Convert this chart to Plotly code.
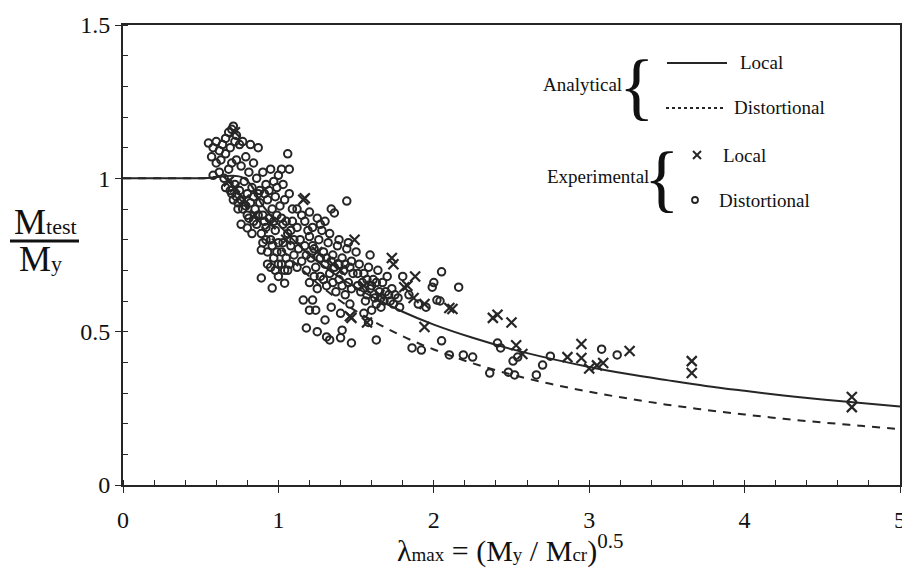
import plotly.graph_objects as go

# ---- Analytical curves ----
local_x = [0.0, 0.5, 0.78, 0.9, 1.0, 1.2, 1.4, 1.6, 1.8, 2.0, 2.25, 2.5, 2.75, 3.0, 3.25, 3.5, 3.75, 4.0, 4.25, 4.5, 4.75, 5.0]
local_y = [1.0, 1.0, 1.0, 0.91, 0.85, 0.75, 0.675, 0.615, 0.565, 0.523, 0.48, 0.443, 0.412, 0.385, 0.362, 0.342, 0.323, 0.307, 0.292, 0.279, 0.267, 0.256]

dist_x = [0.0, 0.5, 0.673, 0.8, 1.0, 1.2, 1.4, 1.6, 1.8, 2.0, 2.25, 2.5, 2.75, 3.0, 3.25, 3.5, 3.75, 4.0, 4.25, 4.5, 4.75, 5.0]
dist_y = [1.0, 1.0, 1.0, 0.905, 0.78, 0.68, 0.60, 0.537, 0.485, 0.442, 0.397, 0.36, 0.33, 0.304, 0.282, 0.262, 0.245, 0.23, 0.216, 0.204, 0.193, 0.182]

# ---- Experimental, distortional (circles) ----
exp_dist_x = [
    0.55, 0.58, 0.60, 0.62, 0.64, 0.66, 0.68, 0.70, 0.71, 0.73, 0.57, 0.60, 0.63, 0.66, 0.69, 0.72, 0.75, 0.77, 0.82, 0.87,
    0.58, 0.62, 0.65, 0.68, 0.70, 0.73, 0.76, 0.79, 0.81, 0.84,
    0.72, 0.75, 0.78, 0.80, 0.83, 0.86, 0.88, 0.90, 0.92, 0.95, 0.97, 1.00, 1.03, 1.06, 1.02, 1.07,
    0.74, 0.77, 0.80, 0.82, 0.85, 0.88, 0.90, 0.93, 0.96, 0.98, 1.01, 1.04, 1.07, 1.09,
    0.76, 0.80, 0.83, 0.86, 0.89, 0.92, 0.95, 0.98, 1.00, 1.03, 1.06, 1.09, 1.12, 0.90, 0.89, 0.93, 0.97, 1.00, 1.02, 1.05,
    1.08, 0.95, 1.04, 0.89, 0.96, 1.04, 1.00,
    1.12, 1.15, 1.17, 1.20, 1.22, 1.25, 1.28, 1.30, 1.34, 1.36, 1.44, 1.14, 1.17, 1.20, 1.23, 1.26, 1.29, 1.32, 1.35, 1.38,
    1.41, 1.44, 1.47, 1.50, 1.15, 1.18, 1.21, 1.24, 1.27, 1.30, 1.33, 1.36, 1.39, 1.42, 1.45, 1.48, 1.51, 1.20, 1.25, 1.31,
    1.37, 1.43, 1.16, 1.22, 1.20, 1.24, 1.30, 1.25, 1.31, 1.33, 1.41, 1.40, 1.47, 1.18, 1.34, 1.40, 1.46,
    1.52, 1.55, 1.58, 1.59, 1.61, 1.64, 1.67, 1.70, 1.73, 1.53, 1.56, 1.59, 1.62, 1.65, 1.68, 1.71, 1.74, 1.77, 1.55, 1.60,
    1.66, 1.63, 1.58,
    1.86, 1.92, 1.95, 2.02, 1.99, 2.00, 2.05, 2.16, 2.04, 2.05, 2.10, 2.19, 2.25, 2.36, 2.41, 2.43, 2.48, 2.52, 2.51, 2.54,
    2.66, 2.70, 2.75, 3.08, 3.18, 1.80, 1.84, 1.90,
    0.70, 0.73, 0.76, 0.79, 0.81, 0.84, 0.87, 0.91, 0.94, 0.97, 0.99, 1.02, 1.05, 1.08, 1.10, 0.84, 0.87, 0.91, 0.94, 0.99,
    0.92, 0.96, 0.99, 1.03, 1.07, 1.10, 0.93, 0.98, 1.02, 1.06,
    1.13, 1.18, 1.22, 1.27, 1.31, 1.34, 1.39, 1.43, 1.46, 1.12, 1.23, 1.29, 1.35, 1.41, 1.47, 1.19, 1.27, 1.33, 1.39, 1.45,
    1.54, 1.57, 1.60, 1.63, 1.66, 1.69, 1.72, 1.51, 1.57, 1.63, 1.75, 1.78,
    0.66, 0.69, 0.71, 0.74,
]
exp_dist_y = [
    1.115, 1.10, 1.12, 1.09, 1.11, 1.13, 1.15, 1.16, 1.17, 1.14, 1.07, 1.05, 1.06, 1.08, 1.10, 1.12, 1.11, 1.12, 1.11, 1.10,
    1.01, 1.02, 1.00, 1.03, 1.05, 1.06, 1.04, 1.07, 1.02, 1.05,
    0.98, 0.96, 0.99, 0.95, 0.97, 1.00, 0.96, 1.02, 0.98, 1.03, 0.99, 1.01, 0.98, 1.08, 1.03, 1.03,
    0.92, 0.90, 0.88, 0.92, 0.90, 0.92, 0.88, 0.93, 0.90, 0.94, 0.91, 0.93, 0.95, 0.90,
    0.85, 0.838, 0.82, 0.85, 0.82, 0.84, 0.80, 0.83, 0.79, 0.85, 0.82, 0.86, 0.84, 0.79, 0.766, 0.76, 0.74, 0.72, 0.76, 0.74,
    0.78, 0.71, 0.70, 0.675, 0.642, 0.658, 0.68,
    0.90, 0.88, 0.86, 0.89, 0.84, 0.87, 0.83, 0.86, 0.90, 0.887, 0.926, 0.80, 0.78, 0.81, 0.77, 0.80, 0.76, 0.79, 0.75, 0.78,
    0.74, 0.77, 0.73, 0.76, 0.73, 0.70, 0.74, 0.71, 0.68, 0.72, 0.69, 0.71, 0.67, 0.70, 0.66, 0.69, 0.65, 0.66, 0.64, 0.65,
    0.63, 0.62, 0.603, 0.603, 0.57, 0.57, 0.538, 0.50, 0.483, 0.473, 0.505, 0.48, 0.463, 0.512, 0.58, 0.56, 0.59,
    0.72, 0.69, 0.71, 0.75, 0.67, 0.70, 0.66, 0.68, 0.64, 0.63, 0.60, 0.64, 0.61, 0.63, 0.60, 0.62, 0.59, 0.61, 0.56, 0.57,
    0.58, 0.473, 0.53,
    0.447, 0.44, 0.58, 0.603, 0.645, 0.66, 0.695, 0.645, 0.60, 0.47, 0.424, 0.424, 0.417, 0.365, 0.463, 0.447, 0.368, 0.359, 0.404, 0.417,
    0.359, 0.391, 0.42, 0.443, 0.424, 0.68, 0.62, 0.59,
    0.95, 0.94, 0.93, 0.91, 0.87, 0.86, 0.88, 0.86, 0.87, 0.86, 0.88, 0.87, 0.86, 0.83, 0.80, 0.94, 0.95, 0.95, 0.96, 0.97,
    0.80, 0.78, 0.76, 0.79, 0.72, 0.75, 0.72, 0.70, 0.72, 0.70,
    0.77, 0.75, 0.78, 0.74, 0.74, 0.73, 0.72, 0.72, 0.71, 0.71, 0.68, 0.67, 0.66, 0.65, 0.64, 0.83, 0.85, 0.82, 0.80, 0.79,
    0.66, 0.67, 0.65, 0.66, 0.61, 0.63, 0.60, 0.69, 0.62, 0.59, 0.62, 0.58,
    0.97, 0.96, 0.93, 0.90,
]

# ---- Experimental, local (crosses) ----
exp_local_x = [0.68, 0.72, 0.72, 0.78, 0.85, 0.95, 1.05, 1.16, 1.17, 1.25, 1.35, 1.49, 1.40, 1.47, 1.46, 1.57, 1.55, 1.65,
               1.73, 1.74, 1.81, 1.83, 1.87, 1.88, 1.94, 1.94, 2.10, 2.12, 2.38, 2.41, 2.50, 2.53, 2.57, 2.86, 2.95, 2.95,
               3.00, 3.05, 3.09, 3.26, 3.66, 3.66, 4.69, 4.69]
exp_local_y = [0.99, 0.97, 1.15, 0.93, 0.88, 0.85, 0.80, 0.93, 0.935, 0.76, 0.72, 0.80, 0.70, 0.545, 0.55, 0.53, 0.65, 0.62,
               0.74, 0.72, 0.645, 0.65, 0.61, 0.68, 0.59, 0.515, 0.577, 0.574, 0.545, 0.555, 0.53, 0.456, 0.427, 0.417, 0.46, 0.414,
               0.38, 0.39, 0.398, 0.437, 0.404, 0.365, 0.287, 0.254]

x_ticks = [0, 1, 2, 3, 4, 5]
y_ticks = [0, 0.5, 1, 1.5]
y_tick_text = ["0", "0.5", "1", "1.5"]

INK = "#262626"
FONT = "Liberation Serif, Times New Roman, serif"

fig = go.Figure()
fig.add_trace(go.Scatter(x=dist_x, y=dist_y, mode="lines", line=dict(color=INK, width=2, dash="8px,7px"),
                         line_shape="spline", showlegend=False, hoverinfo="skip"))
fig.add_trace(go.Scatter(x=local_x, y=local_y, mode="lines", line=dict(color=INK, width=2),
                         line_shape="spline", showlegend=False, hoverinfo="skip"))
fig.add_trace(go.Scatter(x=exp_dist_x, y=exp_dist_y, mode="markers",
                         marker=dict(symbol="circle-open", size=7.5, color=INK, line=dict(width=2, color=INK)),
                         showlegend=False))
fig.add_trace(go.Scatter(x=exp_local_x, y=exp_local_y, mode="markers",
                         marker=dict(symbol="x-thin-open", size=10, color=INK, line=dict(width=2.2, color=INK)),
                         showlegend=False))

# plot area in pixels: x 123..900, y 25..485
def px(x):
    return (x - 123) / 777.0

def py(y):
    return (485 - y) / 460.0

ann = []
def text(x, y, s, size=18, xanchor="center"):
    ann.append(dict(x=px(x), y=py(y), xref="paper", yref="paper", text=s, showarrow=False,
                    font=dict(family=FONT, size=size, color="#111"), xanchor=xanchor, yanchor="middle"))

def small(s, size):
    return "<span style='font-size:%dpx'>%s</span>" % (size, s)

# legend block
text(624, 84, "Analytical", 19, "right")
text(637, 86, "{", 74)
text(738, 63, "Local", 19, "left")
text(732, 108, "Distortional", 19, "left")
text(651, 176, "Experimental", 19, "right")
text(662, 178, "{", 74)
text(721, 155, "Local", 19, "left")
text(717, 200, "Distortional", 19, "left")

# axis titles
text(45, 222, "M" + small("test", 22), 36)
text(40, 259, "M" + small("y", 22), 36)
text(510, 548, "λ" + small("max", 19) + " = (M" + small("y", 19) + " / M" + small("cr", 19) + ")<sup>0.5</sup>", 30)

shapes = [
    dict(type="line", xref="paper", yref="paper", x0=px(667), x1=px(727), y0=py(63), y1=py(63),
         line=dict(color=INK, width=2)),
    dict(type="line", xref="paper", yref="paper", x0=px(666), x1=px(724), y0=py(108), y1=py(108),
         line=dict(color=INK, width=2, dash="dot")),
    dict(type="line", xref="paper", yref="paper", x0=px(693), x1=px(701), y0=py(151), y1=py(159),
         line=dict(color=INK, width=2)),
    dict(type="line", xref="paper", yref="paper", x0=px(693), x1=px(701), y0=py(159), y1=py(151),
         line=dict(color=INK, width=2)),
    dict(type="circle", xref="paper", yref="paper", x0=px(692), x1=px(698), y0=py(197), y1=py(203),
         line=dict(color=INK, width=1.8)),
    dict(type="line", xref="paper", yref="paper", x0=px(10), x1=px(79), y0=py(241), y1=py(241),
         line=dict(color="#111", width=3)),
]

fig.update_layout(
    width=902, height=578,
    margin=dict(l=123, r=2, t=25, b=93, autoexpand=False),
    paper_bgcolor="white", plot_bgcolor="white",
    font=dict(family=FONT, size=24, color="#111"),
    annotations=ann, shapes=shapes,
    xaxis=dict(range=[0, 5], tickvals=x_ticks, ticks="outside", ticklen=6, tickwidth=1.2, tickcolor=INK,
               showline=True, linecolor=INK, linewidth=2, mirror=True, showgrid=False, zeroline=False,
               ticklabelstandoff=6, ticklabeloverflow="allow", automargin=False,
               tickfont=dict(family=FONT, size=24, color="#111"),
               minor=dict(dtick=0.2, ticks="inside", ticklen=5, tickcolor=INK, showgrid=False)),
    yaxis=dict(range=[0, 1.5], tickvals=y_ticks, ticktext=y_tick_text, ticks="outside", ticklen=6, tickwidth=1.2,
               tickcolor=INK, showline=True, linecolor=INK, linewidth=2, mirror=True, showgrid=False, zeroline=False,
               automargin=False,
               tickfont=dict(family=FONT, size=24, color="#111"),
               minor=dict(dtick=0.1, ticks="inside", ticklen=5, tickcolor=INK, showgrid=False)),
)

post = (
    "document.documentElement.style.overflow='hidden';"
    "document.body.style.margin='0';document.body.style.overflow='hidden';"
    "document.querySelectorAll('.plotly-graph-div, .svg-container').forEach(function(d){d.style.overflow='hidden';});"
    "document.querySelectorAll('svg.main-svg').forEach(function(s){s.style.overflow='hidden';});"
)
fig.write_html("out.html", config={"displayModeBar": False}, post_script=post)
